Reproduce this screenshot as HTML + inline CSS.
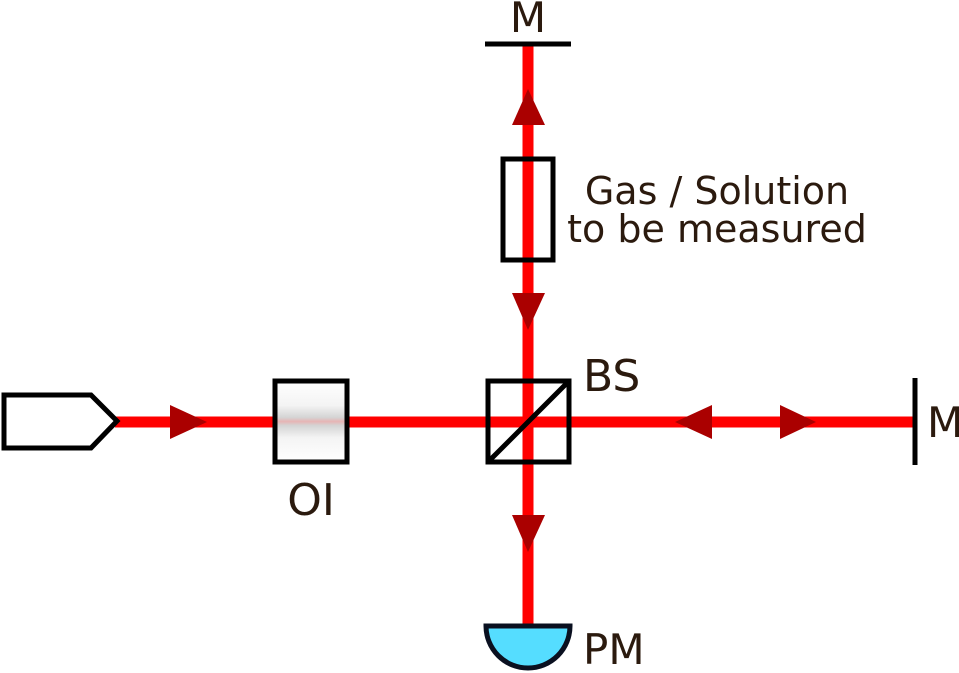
<!DOCTYPE html>
<html><head><style>
html,body{margin:0;padding:0;background:#fff;}
svg{display:block;}
text{font-family:"DejaVu Sans","Liberation Sans",sans-serif;fill:#2b1a0e;}
</style></head><body>
<svg width="959" height="673" viewBox="0 0 959 673" xmlns="http://www.w3.org/2000/svg">
<defs>
<linearGradient id="oi" x1="0" y1="0" x2="0" y2="1">
<stop offset="0" stop-color="#fff"/>
<stop offset="0.3" stop-color="#f4f4f4"/>
<stop offset="0.45" stop-color="#d4d4d4"/>
<stop offset="0.5" stop-color="#e6b4b4"/>
<stop offset="0.55" stop-color="#d4d4d4"/>
<stop offset="0.7" stop-color="#f4f4f4"/>
<stop offset="1" stop-color="#fff"/>
</linearGradient>
</defs>
<!-- beams -->
<line x1="115" y1="422" x2="915" y2="422" stroke="#ff0000" stroke-width="11"/>
<line x1="528" y1="46" x2="528" y2="628" stroke="#ff0000" stroke-width="11"/>
<!-- arrows -->
<g fill="#aa0000">
<polygon points="170,405 207,422 170,439"/>
<polygon points="712,405 675,422 712,439"/>
<polygon points="780,405 816,422 780,439"/>
<polygon points="512,125 528,89 545,125"/>
<polygon points="512,293 528,330 545,293"/>
<polygon points="512,515 528,552 545,515"/>
</g>
<!-- source -->
<polygon points="4,395 91,395 117,421 91,448 4,448" fill="#fff" stroke="#000" stroke-width="5"/>
<!-- OI -->
<rect x="275" y="381" width="72" height="81" fill="url(#oi)" stroke="#000" stroke-width="5"/>
<text x="311" y="515" font-size="44" text-anchor="middle">OI</text>
<!-- BS -->
<rect x="488" y="381" width="81" height="81" fill="none" stroke="#000" stroke-width="5"/>
<line x1="488" y1="462" x2="569" y2="381" stroke="#000" stroke-width="5"/>
<text x="583" y="391" font-size="44">BS</text>
<!-- Gas cell -->
<rect x="503" y="159" width="50" height="101" fill="none" stroke="#000" stroke-width="5"/>
<text x="717" y="204" font-size="38" text-anchor="middle">Gas / Solution</text>
<text x="717" y="242" font-size="38" text-anchor="middle">to be measured</text>
<!-- top mirror -->
<line x1="485" y1="44" x2="571" y2="44" stroke="#000" stroke-width="5"/>
<text x="528" y="32" font-size="42" text-anchor="middle">M</text>
<!-- right mirror -->
<line x1="915" y1="378" x2="915" y2="465" stroke="#000" stroke-width="5"/>
<text x="927" y="437" font-size="42">M</text>
<!-- PM -->
<path d="M486,626 L570,626 A42,42 0 0 1 486,626 Z" fill="#55ddff" stroke="#0a1020" stroke-width="5"/>
<text x="583" y="664" font-size="42">PM</text>
</svg>
</body></html>
